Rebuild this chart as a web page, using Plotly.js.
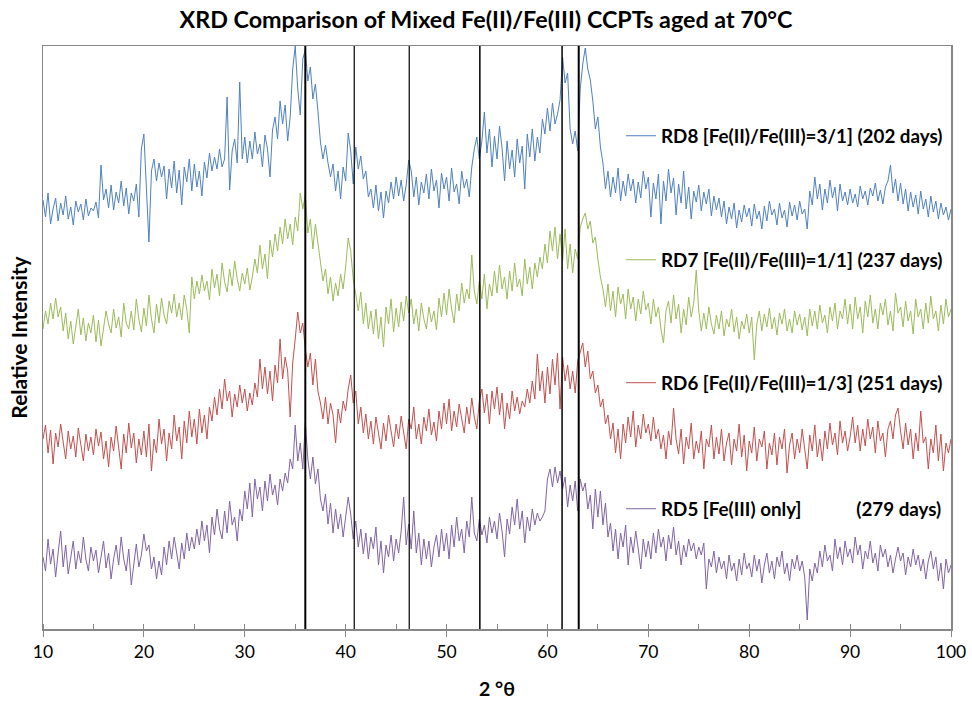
<!DOCTYPE html>
<html><head><meta charset="utf-8">
<script src="https://cdn.plot.ly/plotly-3.0.1.min.js"></script>
<style>html,body{margin:0;padding:0;background:#fff;} #chart{width:972px;height:702px;}</style>
</head><body><div id="chart"></div>
<script>
// 2-theta sampling of the scans
const xStart = 10, xStep = 0.25;

// Relative intensity (arbitrary units, series already stacked as in the figure)
const rd8 = [
429,412,436,405,420,431,408,426,414,433,410,422,404,428,417,425,409,430,413,421,
418,427,411,464,429,440,421,444,419,437,426,448,423,441,415,436,428,445,412,480,
495,442,387,458,470,448,466,452,463,430,460,441,468,436,459,424,462,447,470,438,
465,442,458,433,467,451,476,458,472,460,480,462,470,532,439,478,490,466,547,470,
492,466,488,470,497,475,485,462,494,480,452,499,512,490,528,505,524,488,512,560,
583,540,514,570,579,548,562,530,545,518,487,470,484,466,452,465,438,458,430,462,
448,496,478,445,482,460,473,450,458,432,440,421,444,418,437,411,438,426,447,430,
452,433,449,428,444,469,458,432,452,424,447,436,455,430,460,438,449,421,456,440,
452,428,461,437,445,425,458,441,450,432,462,480,492,470,488,517,476,500,462,493,
470,503,481,448,488,460,479,452,490,466,483,440,495,472,500,468,492,476,510,495,
521,498,526,505,515,529,572,546,556,500,485,498,478,540,565,581,560,549,528,500,
512,482,466,440,458,432,452,436,461,428,448,433,455,438,450,426,447,431,458,440,
452,412,446,430,455,405,448,428,460,436,451,414,445,426,458,420,442,410,438,427,
444,418,437,425,440,413,433,419,431,412,428,405,422,410,426,401,419,407,424,412,
421,403,425,410,418,400,423,408,428,414,420,404,426,411,419,402,427,413,424,409,
428,415,420,400,438,424,452,430,445,419,440,426,449,431,442,418,445,428,437,424,
440,426,435,422,443,430,438,424,441,433,446,428,439,425,442,448,464,436,450,428,
446,425,440,418,437,422,434,415,438,420,430,412,433,417,428,410,426,414,422,409,
420];

const rd7 = [
300,318,305,326,310,331,312,322,298,316,290,308,285,303,320,294,311,288,306,296,
314,287,309,283,300,318,305,296,320,301,312,292,326,306,300,318,299,330,310,297,
321,303,334,310,296,325,306,331,314,305,328,316,335,312,326,309,334,320,296,352,
330,348,335,354,338,348,329,360,341,355,333,366,347,337,360,343,368,350,338,356,
345,361,339,352,370,356,384,360,375,350,389,372,395,378,402,385,410,390,405,384,
412,398,436,420,434,396,410,380,405,386,366,348,360,335,352,328,346,333,355,340,
362,391,378,350,335,318,337,305,326,300,318,295,320,290,312,282,322,305,330,297,
321,302,327,308,333,316,330,305,320,298,326,310,300,322,307,318,299,331,312,336,
314,340,320,306,335,318,346,326,340,330,374,338,325,348,330,355,320,345,333,358,
336,364,340,352,330,358,338,366,342,350,333,370,345,362,340,366,352,372,360,385,
366,398,378,402,370,395,368,400,360,385,356,380,370,402,410,416,400,408,386,392,
370,352,340,322,345,318,338,312,342,325,335,310,340,320,332,308,330,315,338,319,
326,305,330,312,322,300,286,318,328,306,334,310,325,296,320,304,332,312,326,359,
318,298,316,300,322,305,295,314,300,318,293,310,302,320,297,312,290,308,300,315,
296,312,269,305,318,298,315,302,321,300,312,294,316,305,320,298,310,296,318,304,
315,299,312,293,320,303,318,300,324,306,314,296,322,308,326,300,318,310,330,305,
325,300,332,310,322,296,328,312,334,306,320,300,326,314,330,304,318,298,336,316,
322,302,328,308,318,295,330,312,320,300,326,306,333,310,318,298,324,305,330,312,
320];

const rd6 = [
190,204,176,199,165,196,182,205,187,170,198,180,193,172,201,185,168,195,178,192,
174,200,183,197,170,188,162,192,178,203,184,160,195,176,206,181,196,166,190,174,
198,172,205,158,190,176,210,185,200,168,196,180,214,188,202,170,208,186,218,192,
210,185,220,196,214,190,222,208,232,214,240,220,250,228,238,212,235,222,244,226,
240,218,236,224,246,232,270,240,262,235,258,228,264,246,290,250,272,258,212,266,
290,317,296,306,280,262,276,244,270,238,226,210,232,205,226,214,186,220,206,228,
218,240,254,226,238,205,222,196,215,190,208,185,212,198,180,206,188,214,196,182,
205,190,213,194,180,210,200,222,190,205,185,212,198,220,194,207,188,218,200,226,
205,230,198,218,202,225,210,196,222,205,231,212,200,228,240,216,235,205,238,220,
242,214,236,200,226,210,238,218,232,215,228,222,240,226,248,230,275,238,258,226,
262,235,270,244,276,220,272,248,264,240,258,236,268,276,286,262,278,250,258,236,
244,222,230,205,214,190,206,176,200,170,205,186,212,192,218,182,204,190,215,196,
205,188,212,190,200,180,194,170,198,184,221,190,175,200,165,192,180,206,170,188,
176,198,160,190,182,204,170,192,175,200,168,186,196,164,190,178,205,172,194,158,
188,176,202,168,190,182,198,160,186,174,196,164,192,180,200,156,184,196,170,190,
176,200,182,160,194,178,204,172,190,168,198,180,206,184,196,174,208,186,198,178,
192,212,186,204,178,200,183,210,190,202,176,208,188,196,172,200,208,190,214,221,
198,180,206,184,200,170,196,178,218,186,192,160,190,176,204,168,195,158,186,176,
190];

const rd5 = [
72,58,90,65,80,52,76,98,62,84,55,73,88,60,78,66,92,70,58,82,
68,79,56,72,88,61,76,50,70,84,64,92,70,58,80,44,66,85,62,74,
95,78,84,60,72,50,68,54,82,64,88,70,92,74,60,86,70,96,78,92,
80,100,84,108,88,104,76,112,94,120,100,90,118,96,128,104,112,88,120,108,
138,120,146,112,150,130,142,118,148,128,155,134,144,124,150,138,156,146,170,160,
204,168,186,160,206,170,150,172,145,160,130,118,135,105,126,96,120,100,115,92,
110,132,115,90,108,82,100,75,96,70,92,80,102,64,88,56,84,72,94,68,
90,76,98,132,84,105,80,118,76,96,64,90,70,88,62,82,94,72,100,78,
96,70,104,82,112,88,100,76,108,92,132,96,88,110,94,104,86,112,96,108,
90,116,98,72,110,95,122,104,130,100,118,86,112,98,120,104,116,108,112,118,
150,160,142,162,146,158,140,152,122,144,128,148,118,150,138,146,120,134,100,140,
112,138,104,126,92,106,78,100,70,96,82,104,64,92,76,98,80,60,90,72,
88,70,96,76,100,82,92,68,94,80,102,74,88,64,84,72,90,78,86,70,
82,74,86,40,70,62,78,56,72,60,68,50,74,58,66,48,70,54,76,60,
66,52,74,58,70,46,64,76,56,68,50,72,62,78,55,66,48,70,60,74,
58,68,52,9,60,48,66,56,78,62,84,68,74,58,90,70,82,64,88,72,
80,66,92,74,84,60,78,70,88,66,76,58,84,72,80,62,74,56,70,82,
68,76,54,72,62,80,64,74,58,70,50,68,78,60,72,48,66,40,70,56,
64];

const seriesNames = [
  "RD8 [Fe(II)/Fe(III)=3/1] (202 days)",
  "RD7 [Fe(II)/Fe(III)=1/1] (237 days)",
  "RD6 [Fe(II)/Fe(III)=1/3] (251 days)",
  "RD5 [Fe(III) only]\u00a0\u00a0\u00a0\u00a0\u00a0\u00a0\u00a0\u00a0\u00a0\u00a0\u00a0\u00a0(279 days)"
];
const seriesData = [rd8, rd7, rd6, rd5];
// reference peak positions (2θ)
const refLines = [36.0, 40.85, 46.3, 53.3, 61.45, 63.1];
const xTickVals = [10, 20, 30, 40, 50, 60, 70, 80, 90, 100];

// ---- styles ----
const colors = ["#4F81BD", "#9BBB59", "#C0504D", "#8064A2"];
const legendIds = ["legend", "legend2", "legend3", "legend4"];
const legendY = [0.8456, 0.6329, 0.4220, 0.2058];
const refWidths = [2, 1.2, 1.2, 1.5, 1.5, 2];
const FONT = "Lato, 'DejaVu Sans', sans-serif";

const traces = seriesData.map((ys, k) => ({
  type: "scatter", mode: "lines",
  x: ys.map((_, i) => xStart + i * xStep),
  y: ys,
  name: seriesNames[k],
  legend: legendIds[k],
  showlegend: true,
  line: {color: colors[k], width: 1},
  hoverinfo: "x+y"
}));

const shapes = refLines.map((v, i) => ({
  type: "line", xref: "x", yref: "paper", x0: v, x1: v, y0: 0, y1: 1,
  line: {color: "#000", width: refWidths[i]}, layer: "above"
}));

const layout = {
  width: 972, height: 702,
  showlegend: true,
  margin: {l: 43, r: 21, t: 46, b: 73},
  paper_bgcolor: "#fff", plot_bgcolor: "#fff",
  font: {family: FONT, color: "#000"},
  title: {text: "<b>XRD Comparison of Mixed Fe(II)/Fe(III) CCPTs aged at 70°C</b>",
          font: {family: FONT, size: 23.3, color: "#000"},
          x: 0.5, xanchor: "center", y: 0.972, yanchor: "middle"},
  xaxis: {
    range: [10, 100], tickvals: xTickVals, ticktext: xTickVals.map(String),
    ticks: "outside", ticklen: 6, tickcolor: "#878787", tickwidth: 1,
    minor: {dtick: 5, tick0: 5, ticks: "inside", ticklen: 5, tickcolor: "#878787", tickwidth: 1},
    showline: true, linecolor: "#878787", linewidth: 1.5, mirror: true,
    showgrid: false, zeroline: false,
    tickfont: {family: FONT, size: 17.5, color: "#000"},
    title: {text: "<b>2 °θ</b>", font: {family: FONT, size: 19.5, color: "#000"}, standoff: 22}
  },
  yaxis: {
    range: [0, 583], showticklabels: false, ticks: "",
    showline: true, linecolor: "#878787", linewidth: 1.5, mirror: true,
    showgrid: false, zeroline: false,
    title: {text: "<b>Relative Intensity</b>", font: {family: FONT, size: 21, color: "#000"}, standoff: 8}
  },
  shapes: shapes
};
legendIds.forEach((id, k) => {
  layout[id] = {
    x: 0.6366, xanchor: "left", y: legendY[k], yanchor: "middle",
    bgcolor: "rgba(0,0,0,0)", borderwidth: 0, visible: true,
    font: {family: FONT, size: 18.8, color: "#000", weight: "bold"}
  };
});

Plotly.newPlot("chart", traces, layout, {displayModeBar: false, staticPlot: true});
</script>
</body></html>
